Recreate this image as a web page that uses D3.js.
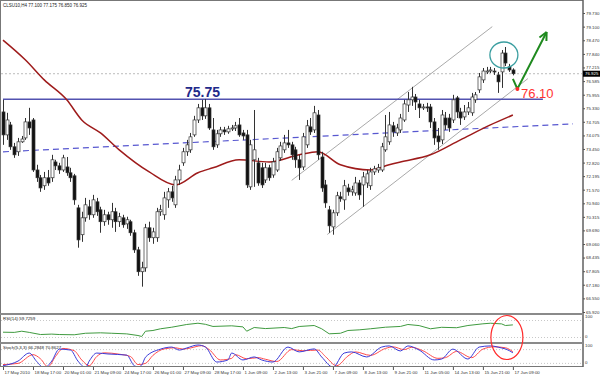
<!DOCTYPE html>
<html>
<head>
<meta charset="utf-8">
<script src="https://cdn.jsdelivr.net/npm/d3@7"></script>
<style>
  body { margin: 0; background: #fff; }
  svg { display: block; font-family: "Liberation Sans", Arial, sans-serif; }
</style>
</head>
<body>
<svg id="chart"></svg>
<script>
// ukuran
const W = 600, H = 376;

// teks judul
const symbolTitle = "CLSU10,H4  77.100 77.175 76.850 76.925";
const rsiTitle = "RSI(14) 59.7259";
const stochTitle = "Stoch(5,3,3) 66.2848 70.8627";

// label waktu (satu label tiap 8 bar)
const timeLabels = ["17 May 2010", "18 May 17:00", "20 May 01:00", "21 May 09:00", "24 May 17:00",
  "26 May 01:00", "27 May 09:00", "28 May 17:00", "1 Jun 09:00", "2 Jun 13:00", "3 Jun 21:00",
  "7 Jun 09:00", "8 Jun 13:00", "9 Jun 21:00", "11 Jun 05:00", "14 Jun 13:00", "15 Jun 21:00", "17 Jun 09:00"];

// label harga sumbu kanan
const priceTicks = [79.730, 79.100, 78.470, 77.840, 77.215, 76.585, 75.955, 75.330, 74.705, 74.075,
  73.450, 72.820, 72.195, 71.570, 70.940, 70.315, 69.690, 69.060, 68.435, 67.805, 67.180, 66.550, 65.920];

// candle H4: [open, high, low, close]
const candles = [
  [75.16,75.72,73.64,74.10],[74.10,75.12,73.87,74.79],[74.56,74.70,73.41,73.55],[73.55,73.73,73.04,73.18],
  [73.32,73.96,73.13,73.78],[73.78,74.05,73.73,73.91],[73.96,74.88,73.87,74.70],[74.70,75.35,74.10,74.42],
  [74.79,74.88,72.39,72.48],[72.48,72.72,71.93,72.12],[72.12,72.25,71.47,71.65],[71.75,72.39,71.56,72.12],
  [72.12,72.48,71.75,71.88],[72.12,73.18,71.93,72.95],[72.85,72.95,72.48,72.67],[72.67,72.81,72.30,72.48],
  [72.48,73.18,72.39,73.04],[72.62,73.08,72.21,72.35],[72.35,72.58,71.93,72.12],[72.21,72.30,70.87,71.10],
  [70.73,70.87,68.89,69.25],[69.49,70.55,69.16,70.27],[70.27,71.19,70.09,70.87],[70.78,71.10,70.18,70.41],
  [70.41,71.33,70.27,71.10],[71.01,71.19,70.36,70.55],[70.64,70.78,69.58,70.09],[70.09,70.64,69.90,70.41],
  [70.41,70.55,69.95,70.18],[70.18,70.96,69.81,70.55],[70.55,70.73,69.62,70.09],[70.09,70.50,69.85,70.32],
  [70.27,70.41,69.81,69.95],[69.99,70.32,69.76,70.18],[70.09,70.18,69.44,69.58],[69.58,69.72,68.65,68.79],
  [68.79,68.93,67.59,67.78],[67.78,68.24,67.09,67.96],[67.96,69.99,67.78,69.81],[69.81,70.09,69.16,69.35],
  [69.35,69.81,69.07,69.62],[69.35,70.73,69.16,70.55],[70.55,70.87,70.36,70.64],[70.41,71.47,70.18,71.19],
  [71.10,71.65,70.73,71.47],[71.47,71.75,71.01,71.19],[70.87,72.21,70.73,72.02],[72.02,72.72,71.79,72.48],
  [72.81,73.50,72.67,73.32],[73.32,73.87,73.13,73.64],[73.41,74.19,73.27,74.01],[74.10,74.98,74.01,74.79],
  [74.79,75.53,74.65,75.35],[75.35,75.72,74.79,74.98],[74.98,75.76,74.84,75.35],[75.35,75.53,74.33,74.42],
  [74.33,74.88,73.41,73.55],[73.64,74.33,73.50,74.15],[74.15,74.47,74.01,74.33],[74.33,74.47,74.10,74.24],
  [74.24,74.52,74.15,74.38],[74.42,74.56,74.28,74.42],[74.42,74.70,74.28,74.52],[74.56,74.88,74.01,74.10],
  [74.19,74.33,73.87,74.05],[74.10,74.33,71.65,71.79],[71.70,73.87,71.56,73.64],[72.95,75.25,71.70,73.41],
  [72.81,73.04,71.75,71.88],[72.58,72.81,71.65,71.79],[72.02,72.81,71.88,72.58],[72.58,72.72,71.98,72.12],
  [72.25,73.04,72.12,72.85],[72.48,73.50,72.39,73.32],[73.04,73.78,72.90,73.59],[73.41,74.10,73.27,73.73],
  [73.73,74.33,73.50,73.64],[73.64,73.78,72.95,73.18],[73.41,73.55,72.58,72.95],[72.95,73.18,72.02,72.58],
  [72.62,74.19,72.48,74.01],[73.64,74.79,73.50,74.52],[74.47,74.88,74.10,74.24],[74.33,75.44,74.19,75.12],
  [75.02,75.25,72.95,73.18],[73.08,73.32,71.47,71.65],[71.79,72.02,70.73,70.96],[70.64,70.82,69.58,69.90],
  [69.85,70.64,69.49,70.50],[70.50,71.47,70.36,71.29],[71.24,71.47,71.01,71.15],[71.10,72.02,70.64,71.75],
  [71.65,71.84,71.29,71.47],[71.47,71.75,71.29,71.56],[71.42,72.16,71.29,71.88],[71.88,72.02,71.10,71.33],
  [71.79,72.39,70.78,72.16],[71.88,72.48,71.65,72.30],[71.75,72.58,71.56,72.39],[72.39,72.67,72.25,72.53],
  [72.48,72.76,72.35,72.58],[72.48,73.73,72.39,73.55],[73.41,75.02,73.32,74.01],[73.78,75.16,73.64,74.56],
  [74.52,74.70,74.01,74.24],[74.19,74.61,74.05,74.42],[74.33,75.07,74.19,74.88],[74.79,75.72,74.70,75.53],
  [75.48,76.08,75.16,75.72],[75.72,76.32,75.44,75.85],[75.85,75.99,75.25,75.62],[75.53,75.72,74.88,75.35],
  [75.39,75.53,75.25,75.39],[75.39,75.58,75.16,75.35],[75.39,75.53,74.42,74.70],[74.70,74.88,73.64,73.96],
  [74.05,74.42,73.41,73.78],[73.87,75.25,73.68,75.02],[74.88,75.16,74.33,74.56],[74.88,75.07,74.24,74.42],
  [74.79,75.95,74.65,75.72],[75.81,75.90,74.88,75.16],[75.16,75.35,74.56,74.88],[74.93,75.48,74.79,75.16],
  [75.16,75.62,75.02,75.35],[75.12,76.04,74.98,75.85],[75.72,76.08,75.58,75.95],[76.18,76.96,76.04,76.78],
  [76.64,77.19,76.50,77.05],[77.01,77.24,76.91,77.05],[77.10,77.24,76.96,77.10],[77.05,77.19,76.87,77.01],
  [76.87,77.01,76.04,76.55],[77.01,78.02,76.27,77.88],[77.88,78.16,77.28,77.42],[77.24,77.38,77.01,77.10],
  [77.10,77.175,76.85,76.925]
];

// moving average (bar, harga)
const maBars   = [0, 6, 11, 17, 21, 26, 31, 39, 46, 52, 56, 63, 71, 79, 84, 90, 98, 103, 106, 114, 122, 130, 136];
const maValues = [78.48, 77.56, 76.64, 75.72, 74.79, 74.19, 73.41, 72.39, 71.79, 72.35, 72.58, 72.95, 72.85,
  73.18, 73.32, 72.72, 72.48, 72.72, 72.85, 73.18, 73.87, 74.56, 75.02];

// RSI(14)
const rsiBars   = [0, 3, 5, 7, 10, 13, 15, 19, 22, 26, 29, 33, 36, 37, 38, 40, 42, 45, 49, 52, 54, 56, 61, 64, 65,
  67, 70, 75, 77, 79, 83, 85, 87, 90, 92, 95, 98, 102, 106, 108, 111, 114, 117, 121, 124, 128, 130, 133, 134, 136];
const rsiValues = [42.5, 42, 44.8, 42, 37, 38, 37, 36.4, 40, 41, 40, 38.5, 34.7, 32.4, 44.8, 46.5, 50.5, 54.2, 60.6,
  63.6, 61, 56, 57.5, 55, 44.8, 53.5, 51, 53.5, 51, 55.9, 58.2, 50.5, 38.7, 40, 46.5, 48, 50.5, 54.2, 56, 60.6,
  58, 50.5, 54, 53, 58.2, 62.2, 63.6, 62, 58.2, 59.7];

// Stochastic %K dan %D
const kBars   = [0, 4, 7, 9, 11, 13, 15, 18, 20, 22, 23, 25, 28, 33, 35, 36, 37, 38, 42, 45, 47, 49, 52, 54, 57, 60,
  61, 64, 67, 69, 72, 76, 79, 83, 85, 88, 91, 93, 97, 101, 103, 106, 108, 111, 115, 117, 120, 124, 127, 130, 133, 134, 136];
const kValues = [10, 30, 65, 28, 0, 30, 82, 78, 30, 2, 30, 65, 61, 56, 10, 5, 13, 47, 82, 91, 78, 87, 100, 91, 26, 35,
  65, 35, 48, 35, 26, 91, 70, 83, 48, 4, 65, 70, 48, 91, 96, 74, 96, 78, 35, 39, 82, 39, 91, 96, 87, 83, 66.3];
const dBars   = [0, 4, 8, 10, 12, 14, 16, 19, 21, 23, 25, 27, 31, 34, 36, 38, 40, 43, 46, 48, 50, 53, 55, 58, 61, 62,
  65, 68, 70, 73, 77, 80, 84, 86, 89, 92, 94, 98, 102, 104, 107, 109, 112, 116, 118, 121, 125, 128, 131, 134, 136];
const dValues = [15, 20, 58, 40, 5, 50, 85, 75, 35, 10, 50, 66, 60, 50, 15, 20, 55, 83, 88, 82, 87, 97, 80, 35, 42, 58,
  40, 45, 38, 28, 80, 75, 78, 50, 10, 52, 70, 55, 85, 92, 80, 90, 75, 42, 45, 72, 45, 82, 92, 88, 70.9];

// garis gambar: level, trend, channel, panah
const supportLevel = 75.75, targetLevel = 76.10, lastClose = 76.925;
const supportSpan = [0, 144];
const trendLine = [[0, 73.32], [152, 74.61]];
const channelUpper = [[77, 72.0], [130.5, 79.1]];
const channelLower = [[86.5, 69.5], [140, 76.7]];
const arrowPath = [[136, 76.69], [137.2, 76.22], [145, 78.85]];
const circleMark = [133.6, 77.79];
const rsiLevels = [70, 30], stochLevels = [80, 20];

const svg = d3.select("#chart").attr("width", W).attr("height", H);

// skala
const x = d3.scaleLinear().domain([0, 154.7]).range([3, 583]);
const y = d3.scaleLinear().domain([65.92, 79.73]).range([312, 13]);
const yRsi = d3.scaleLinear().domain([30, 70]).range([337.5, 320.5]);
const ySto = d3.scaleLinear().domain([0, 100]).range([368, 345]);

// clip panel
const defs = svg.append("defs");
defs.append("clipPath").attr("id", "cMain").append("rect").attr("x", 1).attr("y", 1).attr("width", 582).attr("height", 312);
defs.append("clipPath").attr("id", "cRsi").append("rect").attr("x", 1).attr("y", 316).attr("width", 582).attr("height", 26);
defs.append("clipPath").attr("id", "cSto").append("rect").attr("x", 1).attr("y", 344).attr("width", 582).attr("height", 22);

// bingkai
svg.append("rect").attr("x", 0.5).attr("y", 0.5).attr("width", 582.5).attr("height", 366)
  .attr("fill", "none").attr("stroke", "#777").attr("stroke-width", 1);

const main = svg.append("g").attr("clip-path", "url(#cMain)");

// garis harga terakhir (titik-titik)
main.append("line")
  .attr("x1", 1).attr("x2", 583).attr("y1", y(lastClose)).attr("y2", y(lastClose))
  .attr("stroke", "#bbb").attr("stroke-dasharray", "2,2");

// channel
[channelUpper, channelLower].forEach(c => {
  main.append("line")
    .attr("x1", x(c[0][0])).attr("y1", y(c[0][1]))
    .attr("x2", x(c[1][0])).attr("y2", y(c[1][1]))
    .attr("stroke", "#aaa").attr("stroke-width", 1);
});

// trend putus-putus
main.append("line")
  .attr("x1", x(trendLine[0][0])).attr("y1", y(trendLine[0][1]))
  .attr("x2", x(trendLine[1][0])).attr("y2", y(trendLine[1][1]))
  .attr("stroke", "#5858d0").attr("stroke-width", 1.2).attr("stroke-dasharray", "6,4");

// level 75.75
main.append("line")
  .attr("x1", x(supportSpan[0])).attr("x2", x(supportSpan[1]))
  .attr("y1", y(supportLevel)).attr("y2", y(supportLevel))
  .attr("stroke", "#5252b0").attr("stroke-width", 1.5);

// moving average
main.append("path")
  .datum(maBars.map((b, i) => [b, maValues[i]]))
  .attr("fill", "none").attr("stroke", "#9e1b1b").attr("stroke-width", 1.5)
  .attr("d", d3.line().x(d => x(d[0])).y(d => y(d[1])).curve(d3.curveMonotoneX));

// candle
const bars = main.selectAll("g.bar").data(candles).enter().append("g").attr("class", "bar");
bars.append("line")
  .attr("x1", (d, i) => Math.round(x(i)) + 0.5).attr("x2", (d, i) => Math.round(x(i)) + 0.5)
  .attr("y1", d => y(d[1])).attr("y2", d => y(d[2]))
  .attr("stroke", "#333").attr("stroke-width", 1);
bars.append("rect")
  .attr("x", (d, i) => Math.round(x(i)) - 1)
  .attr("y", d => y(Math.max(d[0], d[3])))
  .attr("width", 3)
  .attr("height", d => Math.max(1, Math.abs(y(d[0]) - y(d[3]))))
  .attr("fill", d => d[3] >= d[0] ? "#fff" : "#111")
  .attr("stroke", "#333").attr("stroke-width", 0.7);

// teks level
main.append("text").attr("x", 185).attr("y", y(supportLevel) - 2)
  .attr("font-size", 14).attr("font-weight", "bold").attr("fill", "#1f2a8a").text("75.75");

// lingkaran puncak
main.append("ellipse").attr("cx", x(circleMark[0])).attr("cy", y(circleMark[1]))
  .attr("rx", 14).attr("ry", 13).attr("fill", "none").attr("stroke", "#3a9ea0").attr("stroke-width", 1.3);

// panah hijau
main.append("path")
  .datum(arrowPath)
  .attr("fill", "none").attr("stroke", "#1f8a1f").attr("stroke-width", 2)
  .attr("d", d3.line().x(d => x(d[0])).y(d => y(d[1])));
const tip = arrowPath[2], prev = arrowPath[1];
const ang = Math.atan2(y(tip[1]) - y(prev[1]), x(tip[0]) - x(prev[0]));
const tx = x(tip[0]), ty = y(tip[1]);
main.append("path")
  .attr("d", `M${tx},${ty} L${tx - 9 * Math.cos(ang - 0.45)},${ty - 9 * Math.sin(ang - 0.45)} M${tx},${ty} L${tx - 9 * Math.cos(ang + 0.45)},${ty - 9 * Math.sin(ang + 0.45)}`)
  .attr("stroke", "#1f8a1f").attr("stroke-width", 2).attr("fill", "none");

// titik target + teks
main.append("circle").attr("cx", x(arrowPath[1][0])).attr("cy", y(arrowPath[1][1])).attr("r", 2)
  .attr("fill", "#ff2a2a");
main.append("text").attr("x", 521).attr("y", y(targetLevel) + 6)
  .attr("font-size", 13).attr("fill", "#ff3333").text(targetLevel.toFixed(2));

// judul
svg.append("text").attr("x", 3).attr("y", 7).attr("font-size", 4.5).attr("fill", "#222").text(symbolTitle);

// sumbu harga
const yAxis = svg.append("g").attr("transform", "translate(583,0)")
  .call(d3.axisRight(y).tickValues(priceTicks).tickFormat(d3.format(".3f")).tickSize(2));
yAxis.select(".domain").remove();
yAxis.selectAll("line").attr("stroke", "#555");
yAxis.selectAll("text").attr("x", 3).attr("font-size", 4.4).attr("fill", "#333").attr("font-family", "Liberation Sans, Arial");
svg.append("line").attr("x1", 583).attr("x2", 583).attr("y1", 0).attr("y2", 367).attr("stroke", "#555");

// kotak harga terakhir
svg.append("rect").attr("x", 583).attr("y", y(lastClose) - 3).attr("width", 17).attr("height", 6).attr("fill", "#000");
svg.append("text").attr("x", 585).attr("y", y(lastClose) + 1.6).attr("font-size", 4.4).attr("fill", "#fff")
  .text(lastClose.toFixed(3));

// pemisah panel
[314, 343].forEach(py => {
  svg.append("line").attr("x1", 0).attr("x2", 583).attr("y1", py).attr("y2", py)
    .attr("stroke", "#8a8a8a").attr("stroke-width", 2);
});

// panel RSI
const rsiG = svg.append("g").attr("clip-path", "url(#cRsi)");
rsiLevels.forEach(v => {
  rsiG.append("line").attr("x1", 1).attr("x2", 583).attr("y1", yRsi(v)).attr("y2", yRsi(v))
    .attr("stroke", "#c8c8c8").attr("stroke-dasharray", "1,2");
});
rsiG.append("path")
  .datum(rsiBars.map((b, i) => [b, rsiValues[i]]))
  .attr("fill", "none").attr("stroke", "#3f9a3f").attr("stroke-width", 1)
  .attr("d", d3.line().x(d => x(d[0])).y(d => yRsi(d[1])));
svg.append("text").attr("x", 3).attr("y", 319.5).attr("font-size", 4.4).attr("fill", "#222").text(rsiTitle);

// panel Stochastic
const stoG = svg.append("g").attr("clip-path", "url(#cSto)");
stochLevels.forEach(v => {
  stoG.append("line").attr("x1", 1).attr("x2", 583).attr("y1", ySto(v)).attr("y2", ySto(v))
    .attr("stroke", "#c8c8c8").attr("stroke-dasharray", "1,2");
});
stoG.append("path")
  .datum(dBars.map((b, i) => [b, dValues[i]]))
  .attr("fill", "none").attr("stroke", "#ff4a4a").attr("stroke-width", 1)
  .attr("d", d3.line().x(d => x(d[0])).y(d => ySto(d[1])).curve(d3.curveMonotoneX));
stoG.append("path")
  .datum(kBars.map((b, i) => [b, kValues[i]]))
  .attr("fill", "none").attr("stroke", "#3a3ad8").attr("stroke-width", 1)
  .attr("d", d3.line().x(d => x(d[0])).y(d => ySto(d[1])).curve(d3.curveMonotoneX));
svg.append("text").attr("x", 3).attr("y", 348.5).attr("font-size", 4.4).attr("fill", "#222").text(stochTitle);

// label skala indikator
[["100", 317.5], ["0", 338], ["100", 347], ["0", 364]].forEach(l => {
  svg.append("text").attr("x", 585).attr("y", l[1]).attr("font-size", 4.4).attr("fill", "#333").text(l[0]);
});

// lingkaran merah indikator
svg.append("ellipse").attr("cx", x(134.4)).attr("cy", yRsi(30)).attr("rx", 16).attr("ry", 22)
  .attr("fill", "none").attr("stroke", "#ff2a2a").attr("stroke-width", 1.2);

// sumbu waktu
const xAxis = svg.append("g").attr("transform", "translate(0,367)")
  .call(d3.axisBottom(x).tickValues(timeLabels.map((t, i) => i * 8)).tickFormat((d, i) => timeLabels[i]).tickSize(3));
xAxis.select(".domain").remove();
xAxis.selectAll("line").attr("stroke", "#555");
xAxis.selectAll("text").attr("text-anchor", "start").attr("x", 1).attr("y", 4)
  .attr("font-size", 4.4).attr("fill", "#333").attr("font-family", "Liberation Sans, Arial");
</script>
</body>
</html>
